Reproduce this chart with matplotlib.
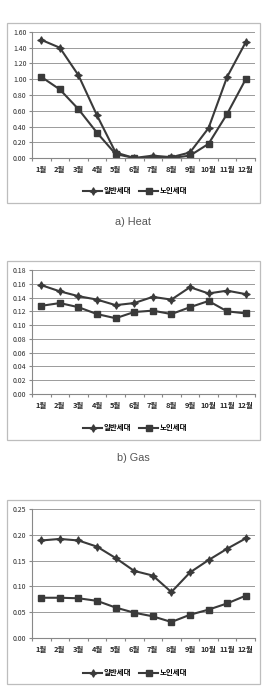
import matplotlib
matplotlib.use("Agg")
import matplotlib.pyplot as plt
from matplotlib.patches import Rectangle
import numpy as np

plt.rcParams['font.family'] = ['Noto Sans CJK KR', 'DejaVu Sans']

months = ["1월", "2월", "3월", "4월", "5월", "6월", "7월", "8월", "9월", "10월", "11월", "12월"]
series_names = ["일반세대", "노인세대"]

heat_general = [1.50, 1.40, 1.05, 0.54, 0.07, 0.00, 0.03, 0.01, 0.07, 0.38, 1.03, 1.47]
heat_elderly = [1.03, 0.87, 0.62, 0.32, 0.05, 0.00, 0.00, 0.00, 0.03, 0.18, 0.56, 1.00]

gas_general = [0.158, 0.149, 0.142, 0.137, 0.129, 0.132, 0.141, 0.137, 0.155, 0.146, 0.150, 0.145]
gas_elderly = [0.128, 0.132, 0.126, 0.116, 0.110, 0.119, 0.121, 0.116, 0.126, 0.135, 0.120, 0.117]

elec_general = [0.189, 0.192, 0.189, 0.177, 0.155, 0.130, 0.121, 0.089, 0.127, 0.151, 0.173, 0.193]
elec_elderly = [0.078, 0.078, 0.077, 0.072, 0.059, 0.049, 0.042, 0.031, 0.045, 0.055, 0.067, 0.082]

W, H = 265, 697
fig = plt.figure(figsize=(W / 100, H / 100), dpi=100)
fig.patch.set_facecolor("white")

def fx(x):
    return x / W

def fy(y):
    return 1 - y / H

line_col = "#3a3a3a"
grid_col = "#9a9a9a"

panels = [
    dict(gen=heat_general, eld=heat_elderly, ymax=1.60, step=0.20, fmt="{:.2f}",
         box=(7, 23, 260, 203), ax=(32, 32, 255, 158), leg=191, cap="a) Heat", capy=222),
    dict(gen=gas_general, eld=gas_elderly, ymax=0.18, step=0.02, fmt="{:.2f}",
         box=(7, 261, 260, 440), ax=(32, 270, 255, 394), leg=428, cap="b) Gas", capy=458),
    dict(gen=elec_general, eld=elec_elderly, ymax=0.25, step=0.05, fmt="{:.2f}",
         box=(7, 500, 260, 684), ax=(32, 509, 255, 638), leg=673, cap=None, capy=None),
]

x = np.arange(1, 13)
for p in panels:
    bx0, by0, bx1, by1 = p["box"]
    fig.patches.append(Rectangle((fx(bx0), fy(by1)), fx(bx1) - fx(bx0), fy(by0) - fy(by1),
                                 transform=fig.transFigure, fill=False,
                                 edgecolor="#bdbdbd", linewidth=0.9))
    ax0, ay0, ax1, ay1 = p["ax"]
    ax = fig.add_axes([fx(ax0), fy(ay1), fx(ax1) - fx(ax0), fy(ay0) - fy(ay1)])
    l1, = ax.plot(x, p["gen"], color=line_col, lw=1.5, marker=(4, 1, 0), ms=5.5,
                  mec=line_col, mfc=line_col, mew=0.8)
    l2, = ax.plot(x, p["eld"], color=line_col, lw=1.5, marker="s", ms=3.8,
                  mec=line_col, mfc=line_col)
    ax.set_xlim(0.5, 12.5)
    ax.set_ylim(0, p["ymax"])
    yt = np.arange(0, p["ymax"] + p["step"] / 2, p["step"])
    ax.set_yticks(yt)
    ax.set_yticklabels([p["fmt"].format(v) for v in yt], fontsize=5.0, color="#2a2a2a")
    ax.yaxis.grid(True, color=grid_col, lw=0.7)
    ax.set_axisbelow(True)
    ax.set_xticks(np.arange(0.5, 13, 1))
    ax.set_xticklabels([])
    ax.set_xticks(x, minor=True)
    ax.set_xticklabels(months, minor=True, fontsize=5.4, color="#2a2a2a", fontweight="bold")
    ax.tick_params(axis="x", which="major", length=2, color="#888888")
    ax.tick_params(axis="x", which="minor", length=0, pad=6)
    ax.tick_params(axis="y", length=2, color="#888888", pad=2)
    for s in ["top", "right"]:
        ax.spines[s].set_visible(False)
    for s in ["left", "bottom"]:
        ax.spines[s].set_color("#888888")
        ax.spines[s].set_linewidth(0.8)
    fig.legend([l1, l2], series_names, loc="center", bbox_to_anchor=(fx(135), fy(p["leg"])),
               ncol=2, frameon=False, handlelength=2.6, handletextpad=0.2,
               columnspacing=1.0, prop={"size": 5.4, "weight": "bold"})
    if p["cap"]:
        fig.text(fx(133), fy(p["capy"]), p["cap"], ha="center", va="center",
                 fontsize=7.8, color="#555555", family=["Liberation Sans", "DejaVu Sans"])

fig.savefig("out.png", dpi=100, facecolor="white")
